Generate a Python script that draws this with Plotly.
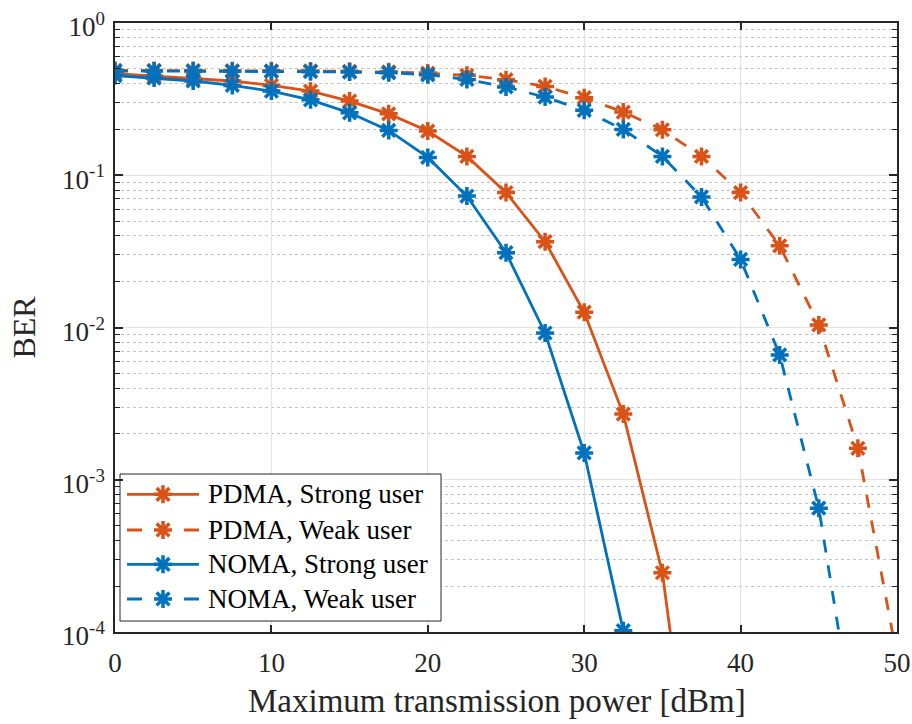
import plotly.graph_objects as go

x_power = [0, 2.5, 5, 7.5, 10, 12.5, 15, 17.5, 20, 22.5, 25, 27.5, 30, 32.5, 35, 37.5, 40, 42.5, 45, 47.5, 50]

pdma_strong = [0.464, 0.448, 0.430, 0.416, 0.389, 0.357, 0.307, 0.253, 0.195, 0.133, 0.077, 0.0366,
               0.0126, 0.0027, 2.45e-4, 2.8e-6]
pdma_weak = [0.488, 0.488, 0.487, 0.486, 0.485, 0.484, 0.482, 0.478, 0.469, 0.453, 0.424, 0.383,
             0.323, 0.260, 0.199, 0.133, 0.077, 0.0344, 0.0104, 0.00161, 6.9e-5]
noma_strong = [0.452, 0.435, 0.416, 0.389, 0.357, 0.313, 0.257, 0.197, 0.131, 0.073, 0.031, 0.0092,
               0.0015, 1.02e-4, 2e-6]
noma_weak = [0.484, 0.484, 0.483, 0.482, 0.481, 0.479, 0.476, 0.471, 0.457, 0.426, 0.380, 0.326,
             0.267, 0.200, 0.133, 0.072, 0.028, 0.0066, 6.5e-4, 1.7e-5]

names = ["PDMA, Strong user", "PDMA, Weak user", "NOMA, Strong user", "NOMA, Weak user"]
x_tickvals = [0, 10, 20, 30, 40, 50]
y_tickvals = [1e-4, 1e-3, 1e-2, 1e-1, 1]
y_ticktext = ["10<sup>-4</sup>", "10<sup>-3</sup>", "10<sup>-2</sup>", "10<sup>-1</sup>", "10<sup>0</sup>"]
x_title = "Maximum transmission power [dBm]"
y_title = "BER"

ORANGE = "#D95319"
BLUE = "#0072BD"
FONT = "Liberation Serif"
AX = "#262626"
DASH = "13px,13px"
LEG_DASH = "15px,42px"

fig = go.Figure()
series = [
    (pdma_strong, names[0], ORANGE, "solid", "solid"),
    (pdma_weak, names[1], ORANGE, DASH, LEG_DASH),
    (noma_strong, names[2], BLUE, "solid", "solid"),
    (noma_weak, names[3], BLUE, DASH, LEG_DASH),
]
MARKER_SIZE = 15
MARKER_LW = 3.5
for vals, nm, col, dash, _ in series:
    fig.add_trace(go.Scatter(
        x=x_power[:len(vals)], y=vals, name=nm, mode="lines+markers",
        line=dict(color=col, width=2.8, dash=dash),
        marker=dict(symbol="asterisk-open", size=MARKER_SIZE, color=col,
                    line=dict(color=col, width=MARKER_LW)),
        showlegend=False,
    ))

# ---- custom legend drawn on an overlay axis (0..1 in plot-area units) ----
box_x0, box_x1 = 0.0064, 0.4169
box_y0, box_y1 = 0.018, 0.2594
fig.add_trace(go.Scatter(
    x=[box_x0, box_x1, box_x1, box_x0, box_x0], y=[box_y0, box_y0, box_y1, box_y1, box_y0],
    xaxis="x2", yaxis="y2", mode="lines", fill="toself", fillcolor="white",
    line=dict(color=AX, width=1), showlegend=False, hoverinfo="skip",
))
row_y = [0.2261, 0.1675, 0.1112, 0.0542]
samp_x0, samp_x1, samp_xm = 0.0154, 0.1074, 0.0614
text_x = 0.1164
for (vals, nm, col, dash, ldash), ry in zip(series, row_y):
    fig.add_trace(go.Scatter(
        x=[samp_x0, samp_x1], y=[ry, ry], xaxis="x2", yaxis="y2", mode="lines",
        line=dict(color=col, width=2.8, dash=ldash), showlegend=False, hoverinfo="skip",
    ))
    fig.add_trace(go.Scatter(
        x=[samp_xm], y=[ry], xaxis="x2", yaxis="y2", mode="markers",
        marker=dict(symbol="asterisk-open", size=MARKER_SIZE, color=col,
                    line=dict(color=col, width=MARKER_LW)),
        showlegend=False, hoverinfo="skip",
    ))
    fig.add_annotation(
        x=text_x, y=ry, xref="x2", yref="y2", text=nm, showarrow=False,
        xanchor="left", yanchor="middle",
        font=dict(family=FONT, size=27, color="black"),
    )

# x-axis title as annotation for exact placement
fig.add_annotation(
    x=0.4885, y=-0.113, xref="paper", yref="paper", text=x_title, showarrow=False,
    xanchor="center", yanchor="middle", font=dict(family=FONT, size=33, color=AX),
)

minor_vals = [k * 10 ** e for e in range(-4, 0) for k in range(2, 10)]

fig.update_layout(
    width=912, height=724,
    margin=dict(l=115, r=15, t=23, b=92),
    paper_bgcolor="white", plot_bgcolor="white",
    font=dict(family=FONT, color=AX, size=27),
    showlegend=False,
    xaxis=dict(
        range=[0, 50], tickmode="array", tickvals=x_tickvals,
        ticks="inside", ticklen=7, tickwidth=1.5, tickcolor=AX,
        showline=True, linecolor=AX, linewidth=1.5, mirror="allticks",
        showgrid=True, gridcolor="#e3e3e3", gridwidth=1,
        zeroline=False, automargin=False, ticklabelstandoff=6,
        tickfont=dict(family=FONT, size=27, color=AX),
    ),
    yaxis=dict(
        type="log", range=[-4, 0], tickmode="array", tickvals=y_tickvals, ticktext=y_ticktext,
        ticks="inside", ticklen=8, tickwidth=1.5, tickcolor=AX,
        showline=True, linecolor=AX, linewidth=1.5, mirror="allticks",
        showgrid=True, gridcolor="#e3e3e3", gridwidth=1,
        zeroline=False, automargin=False, ticklabelstandoff=3, ticklabelshift=4,
        ticklabeloverflow="allow",
        tickfont=dict(family=FONT, size=27, color=AX),
        minor=dict(tickmode="array", tickvals=minor_vals, ticks="inside", ticklen=5,
                   tickwidth=1.2, tickcolor=AX, showgrid=True, gridcolor="#c4c4c4",
                   griddash="dot", gridwidth=1),
        title=dict(text=y_title, font=dict(family=FONT, size=32, color=AX), standoff=17),
    ),
    xaxis2=dict(overlaying="x", range=[0, 1], visible=False, fixedrange=True),
    yaxis2=dict(overlaying="y", range=[0, 1], visible=False, fixedrange=True),
)

fig.write_html("out.html", config={"displayModeBar": False},
               post_script="document.body.style.margin='0';")
